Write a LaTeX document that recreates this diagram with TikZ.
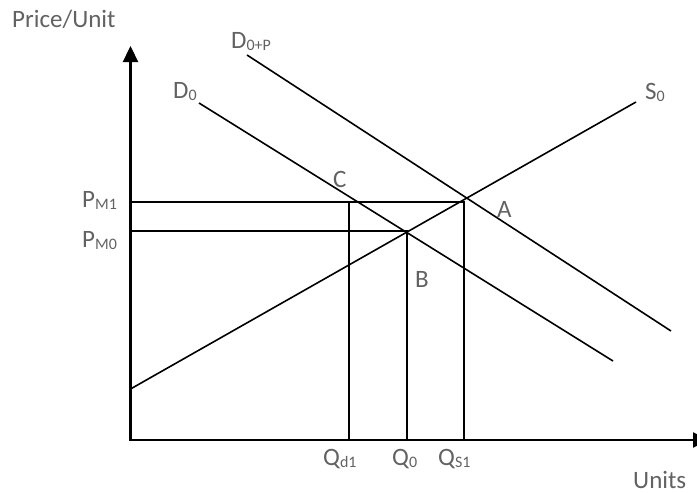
\documentclass[tikz,border=0pt]{standalone}
\usepackage{fontspec}
\setmainfont{Carlito}
\usetikzlibrary{arrows.meta}
\definecolor{labelGrey}{HTML}{626262}
\newcommand{\lowsub}[1]{\raisebox{-0.1em}{\fontsize{16}{16}\selectfont #1}}
\tikzset{
  axisline/.style={line width=2.3pt, {Triangle[length=16pt,width=15pt]}-{Triangle[length=16pt,width=15pt]}},
  curveline/.style={line width=1.6pt},
  guideline/.style={line width=1.6pt},
  lbl/.style={text=labelGrey, font=\fontsize{25}{25}\selectfont, inner sep=0pt, anchor=base west},
}

\begin{document}
\begin{tikzpicture}[x=1pt, y=-1pt]
    \useasboundingbox (0,0) rectangle (697,493);
    % ---- axes ----
    \coordinate (O) at (130.5,440);
    \coordinate (ytip) at (130.5,46);
    \coordinate (xtip) at (709,440);
    \draw[axisline] (ytip) -- (O) -- (xtip);
    % ---- curves ----
    \coordinate (s0a) at (130.5,389);
    \coordinate (s0b) at (636,102);
    \coordinate (d0a) at (199,103);
    \coordinate (d0b) at (613,361);
    \coordinate (dpa) at (247,55);
    \coordinate (dpb) at (671,331);
    \draw[curveline] (s0a) -- (s0b);
    \draw[curveline] (d0a) -- (d0b);
    \draw[curveline] (dpa) -- (dpb);
    % ---- price / quantity guides ----
    \coordinate (pm1) at (130.5,202);
    \coordinate (pm0) at (130.5,231);
    \coordinate (ptA) at (464,202);
    \coordinate (ptB) at (407,231);
    \coordinate (ptC) at (349,202);
    \coordinate (qd1) at (349,440);
    \coordinate (q0) at (407,440);
    \coordinate (qs1) at (464,440);
    \draw[guideline] (pm1) -- (ptA) -- (qs1);
    \draw[guideline] (pm0) -- (ptB) -- (q0);
    \draw[guideline] (ptC) -- (qd1);
    % ---- labels ----
    \node[lbl] (ylab) at (12,27) {Price/Unit};
    \node[lbl] (xlab) at (633,488) {Units};
    \node[lbl] (dplab) at (231,48) {D\lowsub{0+P}};
    \node[lbl] (d0lab) at (173,98) {D\lowsub{0}};
    \node[lbl] (s0lab) at (645,99) {S\lowsub{0}};
    \node[lbl] (clab) at (333,187) {C};
    \node[lbl] (alab) at (497,217) {A};
    \node[lbl] (blab) at (415,287) {B};
    \node[lbl] (pm1lab) at (82,207) {P\lowsub{M1}};
    \node[lbl] (pm0lab) at (82,247) {P\lowsub{M0}};
    \node[lbl] (qd1lab) at (323,465) {Q\lowsub{d1}};
    \node[lbl] (q0lab) at (392,465) {Q\lowsub{0}};
    \node[lbl] (qs1lab) at (438,465) {Q\lowsub{S1}};
\end{tikzpicture}
\end{document}
